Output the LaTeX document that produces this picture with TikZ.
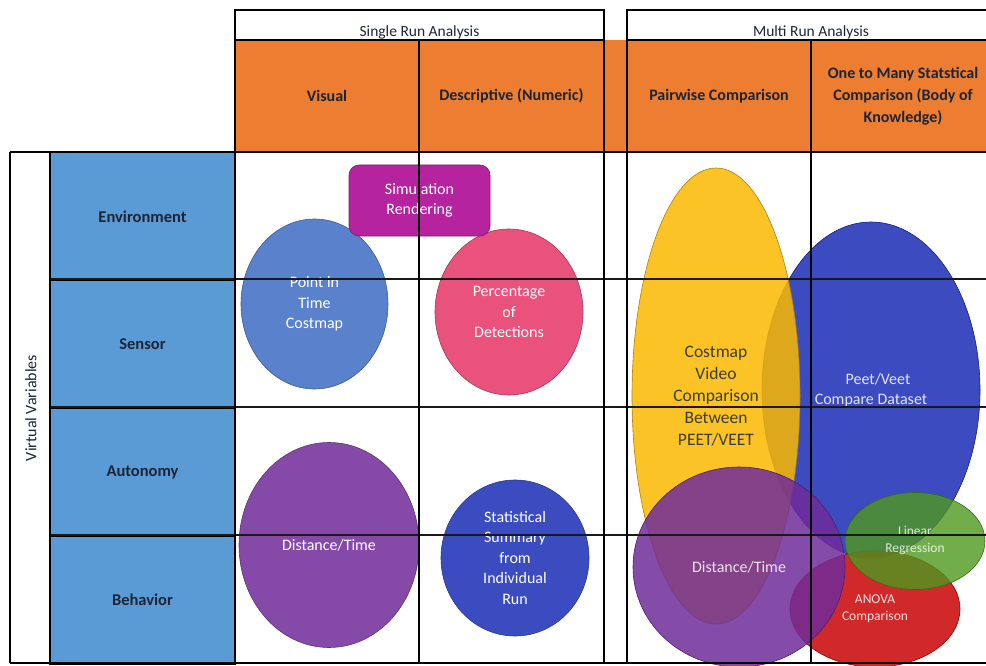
\documentclass[tikz,border=0pt]{standalone}
\usepackage{fontspec}
\setmainfont{Carlito}
\usetikzlibrary{shapes.geometric}
\definecolor{headOrange}{HTML}{ED7D31}
\definecolor{rowBlue}{HTML}{5B9BD5}
\definecolor{labelInk}{HTML}{1B2536}
\definecolor{simMagenta}{HTML}{B5239F}
\definecolor{pointBlue}{HTML}{5A81CB}
\definecolor{detectPink}{HTML}{E9527C}
\definecolor{distPurple}{HTML}{8549A8}
\definecolor{statBlue}{HTML}{3B4CC0}
\definecolor{costYellow}{HTML}{FAB900}
\definecolor{peetBlue}{HTML}{1A2BB5}
\definecolor{multiPurple}{HTML}{702B9A}
\definecolor{anovaRed}{HTML}{C90404}
\definecolor{regGreen}{HTML}{4F981F}
\begin{document}
\begin{tikzpicture}
[x=1pt,y=-1pt,
 titleDecorate/.style={shape=rectangle,draw=black,line width=1.6pt,minimum width=369pt,
   minimum height=30pt,text height=23pt,text depth=0pt,text=labelInk,
   font=\fontsize{15.5}{18}\selectfont},
 headDecorate/.style={shape=rectangle,fill=headOrange,draw=black,line width=1.6pt,
   minimum width=184pt,minimum height=112pt,align=center,text=labelInk,
   font=\fontsize{16}{22}\selectfont\bfseries},
 rowDecorate/.style={shape=rectangle,fill=rowBlue,draw=black,line width=1.4pt,
   minimum width=185pt,minimum height=128pt,text=labelInk,
   font=\fontsize{16.5}{20}\selectfont\bfseries},
 blobDecorate/.style={shape=ellipse,inner sep=0pt,align=center,fill=#1,
   draw=#1!70!black,line width=0.6pt,text=white,
   font=\fontsize{16}{20.5}\selectfont}]
\useasboundingbox (0,0) rectangle (986,666);
%% column titles and headers
\node (single) at (419.5,25) [titleDecorate] {Single Run Analysis};
\node (multi) at (811,25) [titleDecorate] {Multi Run Analysis};
\node (gapCell) at (615.5,96) [shape=rectangle,fill=headOrange,inner sep=0pt,
  minimum width=23pt,minimum height=112pt] {};
\foreach \nodename/\x/\headtext in {
  Visual/327/Visual, Descriptive/511.5/Descriptive (Numeric),
  Pairwise/719/Pairwise Comparison,
  OneToMany/903/{One to Many Statstical\\Comparison (Body of\\Knowledge)}}
{
  \node (\nodename) at (\x,96) [headDecorate] {\headtext};
}
%% row labels
\foreach \nodename/\y in {
  Environment/216.5, Sensor/344, Autonomy/472, Behavior/600}
{
  \node (\nodename) at (142.5,\y) [rowDecorate] {\nodename};
}
\node (virtVar) at (31,408) [rotate=90,text=labelInk,
  font=\fontsize{16}{18}\selectfont] {Virtual Variables};
%% single run blobs
\node (pointTime) at (314.5,304) [blobDecorate=pointBlue,
  minimum width=147pt,minimum height=170pt] {Point in\\Time\\Costmap};
\node (percentDet) at (509,312) [blobDecorate=detectPink,
  minimum width=148pt,minimum height=166pt] {Percentage\\of\\Detections};
\node (simRender) at (419.5,200.5) [shape=rectangle,rounded corners=10pt,
  fill=simMagenta,draw=simMagenta!70!black,line width=0.6pt,text=white,align=center,
  minimum width=141pt,minimum height=71pt,font=\fontsize{16}{20.5}\selectfont]
  {Simulation\\Rendering};
\node (distSingle) at (329,545) [blobDecorate=distPurple,
  minimum width=180pt,minimum height=205pt] {Distance/Time};
\node (statSum) at (515,558) [blobDecorate=statBlue,
  minimum width=148pt,minimum height=156pt]
  {Statistical\\Summary\\from\\Individual\\Run};
%% multi run blobs
\tikzstyle{MultiStyle}=[fill opacity=0.85]
\node (peetVeet) at (871,390) [blobDecorate=peetBlue,MultiStyle,
  minimum width=218pt,minimum height=336pt] {\hspace*{14pt}Peet/Veet\\Compare Dataset};
\node (costVideo) at (716,396) [blobDecorate=costYellow,MultiStyle,text=labelInk,
  minimum width=168pt,minimum height=456pt,font=\fontsize{17.5}{22}\selectfont]
  {Costmap\\Video\\Comparison\\Between\\PEET/VEET};
\node (anova) at (875,609) [blobDecorate=anovaRed,MultiStyle,
  minimum width=170pt,minimum height=116pt,font=\fontsize{13.5}{17}\selectfont]
  {ANOVA\\Comparison};
\node (distMulti) at (739,567) [blobDecorate=multiPurple,MultiStyle,
  minimum width=212pt,minimum height=200pt] {Distance/Time};
\node (linReg) at (915,541) [blobDecorate=regGreen,fill opacity=0.8,
  minimum width=140pt,minimum height=97pt,font=\fontsize{13.5}{17}\selectfont]
  {Linear\\Regression};
%% grid lines
\tikzstyle{OuterLine}=[line width=1.8pt,black]
\tikzstyle{InnerLine}=[line width=1.4pt,black!90]
\foreach \y in {279,407,535}
{
  \draw[InnerLine] (50,\y) -- (986,\y);
}
\foreach \x/\top in {235/10, 419/40, 604/10, 627/10, 811/40, 10/152, 50/152}
{
  \draw[OuterLine] (\x,\top) -- (\x,663);
}
\draw[OuterLine] (10,152) -- (986,152);
\draw[OuterLine] (10,663) -- (986,663);
\end{tikzpicture}
\end{document}
